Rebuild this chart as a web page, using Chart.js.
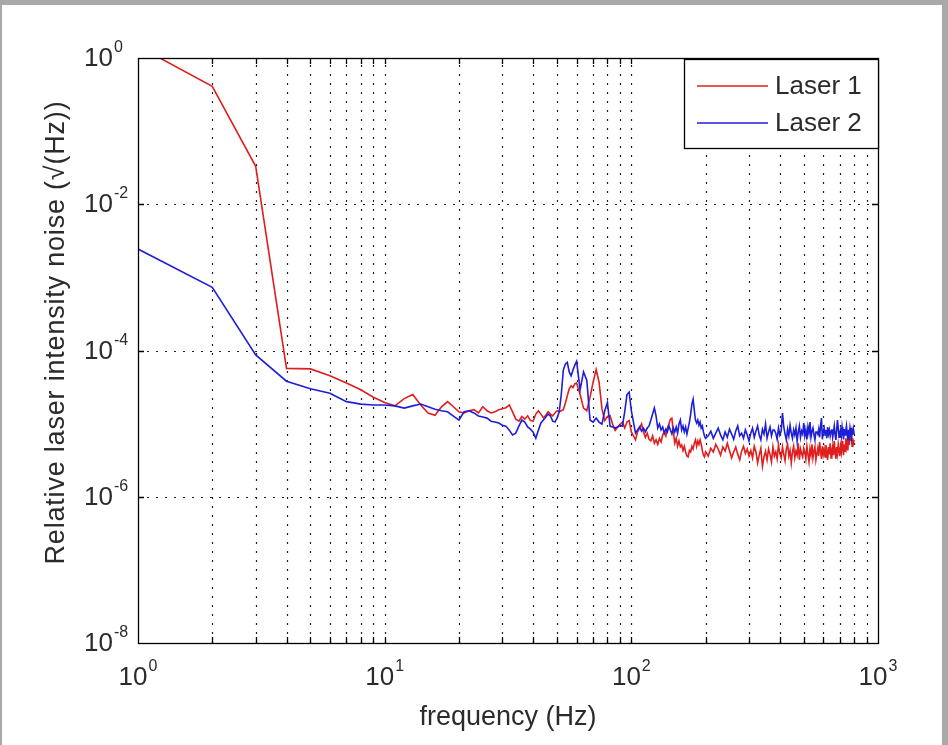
<!DOCTYPE html>
<html>
<head>
<meta charset="utf-8">
<script src="https://cdn.jsdelivr.net/npm/chart.js@4.4.0/dist/chart.umd.min.js"></script>
<style>
  html, body { margin: 0; padding: 0; width: 948px; height: 745px; overflow: hidden; background: #a9a9a9; }
  #wrap { position: absolute; left: 2px; top: 5px; width: 940px; height: 740px; background: #fff; }
</style>
</head>
<body>
<div id="wrap"><canvas id="chart" width="940" height="740"></canvas></div>
<script>
// Laser intensity noise spectra, log-log, MATLAB look.
const freqHz = [
  1,2,3,4,5,6,7,8,9,10,11,12,13,14,15,16,17,18,19,20,
  21,22,23,24,25,26,27,28,29,30,31,32,33,34,35,36,37,38,39,40,
  41,42,43,44,45,46,47,48,49,50,51,52,53,54,55,56,57,58,59,60,
  62,64,66,68,70,72,74,76,78,80,82,84,86,88,90,92,94,96,98,100,
  102,104,106,108,110,112,114,116,118,120,122,124,126,128,130,132,134,136,138,140,
  142,144,146,148,150,152,154,156,158,160,162,164,166,168,170,172,174,176,178,180,
  182,184,186,188,190,192,194,196,198,200,
  205,210,215,220,225,230,235,240,245,250,255,260,265,270,275,280,285,290,295,300,
  305,310,315,320,325,330,335,340,345,350,355,360,365,370,375,380,385,390,395,400,
  405,410,415,420,425,430,435,440,445,450,455,460,465,470,475,480,485,490,495,500,
  505,510,515,520,525,530,535,540,545,550,555,560,565,570,575,580,585,590,595,600,
  605,610,615,620,625,630,635,640,645,650,655,660,665,670,675,680,685,690,695,700,
  705,710,715,720,725,730,735,740,745,750,755,760,765,770,775,780,785,790,795,800
];

const laser1 = [
  1.45,0.41,0.033,5.7e-5,5.6e-5,4.5e-5,3.6e-5,2.9e-5,2.3e-5,1.95e-5,
  1.75e-5,2.2e-5,2.5e-5,1.8e-5,1.4e-5,1.3e-5,1.7e-5,2.0e-5,1.7e-5,1.45e-5,
  1.4e-5,1.5e-5,1.55e-5,1.4e-5,1.7e-5,1.5e-5,1.4e-5,1.45e-5,1.55e-5,1.6e-5,
  1.65e-5,1.8e-5,1.45e-5,1.15e-5,1.08e-5,1.25e-5,1.15e-5,1.28e-5,1.1e-5,1.08e-5,
  1.35e-5,1.5e-5,1.35e-5,1.2e-5,1.3e-5,1.45e-5,1.35e-5,1.28e-5,1.4e-5,1.5e-5,
  1.45e-5,1.5e-5,1.55e-5,1.9e-5,2.4e-5,3.0e-5,3.3e-5,3.1e-5,3.5e-5,3.6e-5,
  2.5e-5,1.63e-5,1.5e-5,2.3e-5,3.7e-5,5.5e-5,3.7e-5,1.6e-5,1.1e-5,1.25e-5,
  1.28e-5,9.8e-6,8.1e-6,9.0e-6,9.8e-6,1.05e-5,8.7e-6,1.05e-5,1.1e-5,7.7e-6,
  6.8e-6,6.0e-6,7.7e-6,8.7e-6,9.9e-6,7.7e-6,6.5e-6,7.4e-6,6.1e-6,5.8e-6,
  6.8e-6,5.4e-6,6.0e-6,5.2e-6,6.3e-6,5.6e-6,7.0e-6,7.7e-6,6.8e-6,8.7e-6,
  9.9e-6,1.15e-5,1.19e-5,7.7e-6,5.4e-6,6.3e-6,4.9e-6,5.8e-6,4.8e-6,5.1e-6,
  4.3e-6,4.9e-6,4.1e-6,3.6e-6,3.5e-6,4.3e-6,4.1e-6,4.9e-6,4.5e-6,5.4e-6,
  6.0e-6,4.9e-6,5.8e-6,5.2e-6,6.0e-6,5.2e-6,4.3e-6,3.7e-6,3.5e-6,4.1e-6,
  3.6e-6,4.6e-6,4.1e-6,5.2e-6,4.5e-6,3.7e-6,4.8e-6,4.2e-6,5.4e-6,4.3e-6,3.4e-6,4.1e-6,4.8e-6,3.8e-6,3.2e-6,4.2e-6,4.9e-6,3.9e-6,4.5e-6,3.6e-6,
  4.3e-6,3.4e-6,4.9e-6,4.1e-6,2.9e-6,3.7e-6,4.6e-6,2.6e-6,3.5e-6,4.2e-6,3.2e-6,4.5e-6,3.8e-6,3.0e-6,4.8e-6,3.6e-6,4.1e-6,3.3e-6,5.1e-6,3.9e-6,
  3.4e-6,4.8e-6,3.8e-6,3.1e-6,4.5e-6,5.2e-6,3.6e-6,4.3e-6,2.9e-6,4.1e-6,4.9e-6,3.4e-6,4.2e-6,3.7e-6,5.4e-6,3.2e-6,4.5e-6,3.9e-6,3.5e-6,4.6e-6,
  4.1e-6,3.3e-6,4.9e-6,3.8e-6,3.0e-6,4.5e-6,3.7e-6,5.2e-6,3.4e-6,4.2e-6,4.8e-6,3.2e-6,3.9e-6,4.6e-6,3.6e-6,5.6e-6,4.2e-6,3.3e-6,4.9e-6,3.8e-6,
  4.5e-6,3.5e-6,5.1e-6,4.1e-6,3.2e-6,4.8e-6,3.8e-6,5.4e-6,3.4e-6,4.3e-6,4.9e-6,3.7e-6,5.8e-6,4.1e-6,3.3e-6,4.8e-6,3.9e-6,5.2e-6,4.3e-6,3.6e-6,
  4.9e-6,4.1e-6,5.8e-6,4.5e-6,3.7e-6,5.2e-6,4.2e-6,6.3e-6,4.8e-6,5.6e-6,4.3e-6,6.8e-6,5.1e-6,7.7e-6,5.8e-6,7.0e-6,4.9e-6,6.3e-6,5.4e-6,6.0e-6
];

const laser2 = [
  2.44e-3,7.3e-4,8.7e-5,3.8e-5,3.0e-5,2.6e-5,2.0e-5,1.85e-5,1.8e-5,1.8e-5,
  1.75e-5,1.63e-5,1.75e-5,1.85e-5,1.7e-5,1.57e-5,1.5e-5,1.45e-5,1.27e-5,1.12e-5,
  1.45e-5,1.5e-5,1.4e-5,1.27e-5,1.23e-5,1.19e-5,1.08e-5,1.05e-5,1.02e-5,9.5e-6,
  9.25e-6,8.15e-6,7.0e-6,7.4e-6,9.25e-6,1.12e-5,1.05e-5,9.0e-6,8.4e-6,7.65e-6,
  6.3e-6,8.15e-6,1.02e-5,1.12e-5,1.23e-5,1.35e-5,1.27e-5,1.08e-5,1.05e-5,1.19e-5,
  1.45e-5,2.5e-5,5.4e-5,6.5e-5,6.9e-5,5.1e-5,4.5e-5,5.4e-5,6.3e-5,7.1e-5,
  2.9e-5,5.1e-5,3.9e-5,1.12e-5,1.05e-5,1.19e-5,1.05e-5,9.85e-6,1.5e-5,1.95e-5,
  9.25e-6,9.0e-6,8.7e-6,9.0e-6,9.5e-6,9.25e-6,1.45e-5,2.5e-5,2.7e-5,1.5e-5,
  1.05e-5,7.4e-6,8.2e-6,9.0e-6,7.9e-6,8.7e-6,7.7e-6,8.7e-6,9.3e-6,1.12e-5,
  1.35e-5,1.63e-5,1.27e-5,8.7e-6,9.9e-6,8.2e-6,9.0e-6,7.4e-6,8.4e-6,7.7e-6,
  9.3e-6,8.2e-6,7.2e-6,8.7e-6,7.7e-6,9.0e-6,7.4e-6,9.9e-6,1.12e-5,8.2e-6,
  9.3e-6,7.7e-6,9.0e-6,7.2e-6,8.7e-6,1.05e-5,1.35e-5,1.85e-5,2.16e-5,1.52e-5,
  1.12e-5,1.02e-5,1.12e-5,9.5e-6,1.05e-5,8.7e-6,9.3e-6,7.7e-6,6.8e-6,6.3e-6,
  6.8e-6,7.9e-6,6.3e-6,7.4e-6,8.7e-6,7.0e-6,6.0e-6,7.7e-6,6.5e-6,8.4e-6,7.2e-6,6.1e-6,7.9e-6,9.3e-6,6.8e-6,7.4e-6,6.3e-6,8.2e-6,7.0e-6,5.8e-6,
  7.4e-6,8.7e-6,6.5e-6,7.9e-6,9.3e-6,7.0e-6,6.0e-6,8.4e-6,7.2e-6,9.9e-6,6.3e-6,7.7e-6,9.0e-6,6.8e-6,8.2e-6,8.2e-6,7.4e-6,6.1e-6,8.7e-6,7.0e-6,
  7.9e-6,1.39e-5,9.0e-6,7.2e-6,6.0e-6,8.4e-6,6.8e-6,9.5e-6,7.4e-6,6.3e-6,8.2e-6,7.0e-6,8.7e-6,5.8e-6,7.7e-6,9.3e-6,6.5e-6,7.9e-6,7.2e-6,1.02e-5,
  6.8e-6,8.2e-6,6.1e-6,9.0e-6,7.4e-6,1.05e-5,6.5e-6,7.9e-6,8.7e-6,7.0e-6,6.0e-6,7.7e-6,7.7e-6,7.2e-6,8.4e-6,6.5e-6,9.3e-6,1.19e-5,6.1e-6,7.9e-6,
  8.7e-6,7.0e-6,8.2e-6,6.3e-6,9.0e-6,7.2e-6,8.2e-6,6.8e-6,7.9e-6,8.4e-6,6.5e-6,7.7e-6,9.3e-6,7.0e-6,6.0e-6,8.2e-6,1.12e-5,8.7e-6,6.5e-6,7.4e-6,
  8.2e-6,6.8e-6,9.0e-6,7.4e-6,6.1e-6,8.4e-6,7.0e-6,7.9e-6,9.3e-6,7.2e-6,6.0e-6,8.2e-6,6.8e-6,8.7e-6,7.4e-6,6.3e-6,7.9e-6,7.0e-6,8.4e-6,7.2e-6
];

const seriesNames  = ['Laser 1', 'Laser 2'];
const seriesColors = ['#e01e1e', '#1e1ed8'];
const xDecades = [1, 10, 100, 1000];
const yDecades = [1e-8, 1e-6, 1e-4, 1e-2, 1];
const xTitle = 'frequency (Hz)';
const yTitle = 'Relative laser intensity noise (\u221A(Hz))';

const FONT = '"Liberation Sans", Arial, Helvetica, sans-serif';
const INK = '#2b2b2b';

// vertical grid / tick positions: 2..9 of every decade plus the inner decades
function xGridValues() {
  const out = [];
  for (let i = 0; i < xDecades.length - 1; i++) {
    for (let m = 1; m <= 9; m++) {
      const v = xDecades[i] * m;
      if (v > xDecades[0]) out.push(v);
    }
  }
  return out;
}
const yGridValues = () => yDecades.slice(1, -1);

function drawPower(ctx, exp, x, y, align) {
  // "10" with a raised exponent; y is the middle of the "10"
  ctx.font = `26px ${FONT}`;
  const wBase = ctx.measureText('10').width;
  ctx.font = `16px ${FONT}`;
  const wExp = ctx.measureText(String(exp)).width;
  const left = align === 'center' ? x - (wBase + wExp + 1) / 2 : x;
  ctx.fillStyle = INK;
  ctx.textAlign = 'left';
  ctx.textBaseline = 'middle';
  ctx.font = `26px ${FONT}`;
  ctx.fillText('10', left, y);
  ctx.textBaseline = 'alphabetic';
  ctx.font = `16px ${FONT}`;
  ctx.fillText(String(exp), left + wBase + 1, y - 7);
}

const matlabAxes = {
  id: 'matlabAxes',
  beforeDatasetsDraw(chart) {
    const { ctx, chartArea: ca, scales: { x, y } } = chart;
    ctx.save();
    ctx.strokeStyle = '#202020';
    ctx.lineWidth = 1.2;
    ctx.setLineDash([2, 7]);
    xGridValues().forEach(v => {
      const px = Math.round(x.getPixelForValue(v)) + 0.5;
      ctx.beginPath(); ctx.moveTo(px, ca.bottom); ctx.lineTo(px, ca.top); ctx.stroke();
    });
    yGridValues().forEach(v => {
      const py = Math.round(y.getPixelForValue(v)) + 0.5;
      ctx.beginPath(); ctx.moveTo(ca.left, py); ctx.lineTo(ca.right, py); ctx.stroke();
    });
    ctx.restore();
  },
  afterDatasetsDraw(chart) {
    const { ctx, chartArea: ca, scales: { x, y } } = chart;
    ctx.save();
    ctx.setLineDash([]);
    ctx.strokeStyle = '#000';
    ctx.lineWidth = 1.3;

    // ticks, inward on all four sides
    const tl = 6;
    ctx.beginPath();
    xGridValues().forEach(v => {
      const px = Math.round(x.getPixelForValue(v)) + 0.5;
      ctx.moveTo(px, ca.bottom); ctx.lineTo(px, ca.bottom - tl);
      ctx.moveTo(px, ca.top); ctx.lineTo(px, ca.top + tl);
    });
    yGridValues().forEach(v => {
      const py = Math.round(y.getPixelForValue(v)) + 0.5;
      ctx.moveTo(ca.left, py); ctx.lineTo(ca.left + tl, py);
      ctx.moveTo(ca.right, py); ctx.lineTo(ca.right - tl, py);
    });
    ctx.stroke();

    // box
    ctx.strokeRect(ca.left + 0.5, ca.top + 0.5, ca.right - ca.left, ca.bottom - ca.top);

    // tick labels
    xDecades.forEach(v => drawPower(ctx, Math.round(Math.log10(v)), x.getPixelForValue(v), ca.bottom + 35, 'center'));
    yDecades.forEach(v => drawPower(ctx, Math.round(Math.log10(v)), ca.left - 54, y.getPixelForValue(v) + 1, 'left'));

    // axis titles
    ctx.fillStyle = INK;
    ctx.textAlign = 'center';
    ctx.textBaseline = 'middle';
    ctx.font = `27px ${FONT}`;
    ctx.fillText(xTitle, (ca.left + ca.right) / 2, ca.bottom + 75);
    ctx.save();
    ctx.translate(ca.left - 81, (ca.top + ca.bottom) / 2 - 18);
    ctx.rotate(-Math.PI / 2);
    ctx.font = `27px ${FONT}`;
    ctx.letterSpacing = '0.8px';
    ctx.fillText(yTitle, 0, 0);
    ctx.restore();

    // legend, top-right inside the axes
    const lw = 194, lh = 89;
    const lx = ca.right - lw, ly = ca.top + 1;
    ctx.fillStyle = '#fff';
    ctx.fillRect(lx, ly, lw, lh);
    ctx.strokeStyle = '#000';
    ctx.lineWidth = 1.3;
    ctx.strokeRect(lx + 0.5, ly + 0.5, lw, lh);
    ctx.font = `26px ${FONT}`;
    ctx.textAlign = 'left';
    ctx.textBaseline = 'middle';
    seriesNames.forEach((name, i) => {
      const cy = ly + 27 + i * 37;
      ctx.strokeStyle = seriesColors[i];
      ctx.lineWidth = 1.6;
      ctx.beginPath(); ctx.moveTo(lx + 13, cy); ctx.lineTo(lx + 84, cy); ctx.stroke();
      ctx.fillStyle = INK;
      ctx.fillText(name, lx + 91, cy + 1);
    });
    ctx.restore();
  }
};

const datasets = [laser1, laser2].map((vals, i) => ({
  label: seriesNames[i],
  data: freqHz.map((f, k) => ({ x: f, y: vals[k] })),
  borderColor: seriesColors[i],
  borderWidth: 1.6,
  pointRadius: 0,
  tension: 0,
  fill: false,
  order: seriesNames.length - i,
}));

new Chart(document.getElementById('chart'), {
  type: 'line',
  data: { datasets },
  options: {
    responsive: false,
    animation: false,
    devicePixelRatio: 1,
    layout: { padding: { top: 53, right: 64, left: 0, bottom: 0 } },
    plugins: { legend: { display: false }, tooltip: { enabled: false } },
    scales: {
      x: {
        type: 'logarithmic', min: 1, max: 1000,
        grid: { display: false }, border: { display: false }, ticks: { display: false },
        afterFit: s => { s.height = 102; }
      },
      y: {
        type: 'logarithmic', min: 1e-8, max: 1,
        grid: { display: false }, border: { display: false }, ticks: { display: false },
        afterFit: s => { s.width = 136; }
      }
    }
  },
  plugins: [matlabAxes],
});
</script>
</body>
</html>
